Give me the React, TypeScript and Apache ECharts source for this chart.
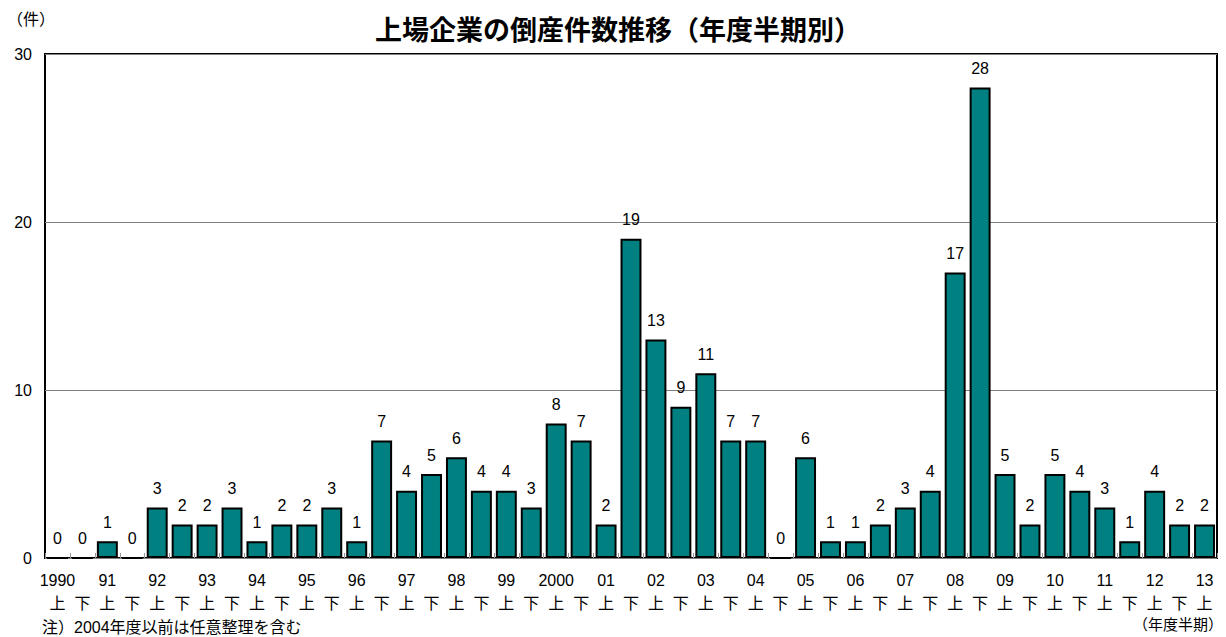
import React, { useEffect, useRef } from "react";
import * as echarts from "echarts";

// Fiscal-year labels shown under each first-half (上) period
const periodYears = [
  "1990", "", "91", "", "92", "", "93", "", "94", "", "95", "", "96", "", "97", "", "98", "", "99", "",
  "2000", "", "01", "", "02", "", "03", "", "04", "", "05", "", "06", "", "07", "", "08", "", "09", "",
  "10", "", "11", "", "12", "", "13",
];

// Half-year markers (上 = first half, 下 = second half)
const periodHalves = [
  "上", "下", "上", "下", "上", "下", "上", "下", "上", "下", "上", "下", "上", "下", "上", "下", "上", "下", "上", "下",
  "上", "下", "上", "下", "上", "下", "上", "下", "上", "下", "上", "下", "上", "下", "上", "下", "上", "下", "上", "下",
  "上", "下", "上", "下", "上", "下", "上",
];

// Number of bankruptcies of listed companies per half-year
const bankruptcyCounts = [
  0, 0, 1, 0, 3, 2, 2, 3, 1, 2, 2, 3, 1, 7, 4, 5, 6, 4, 4, 3,
  8, 7, 2, 19, 13, 9, 11, 7, 7, 0, 6, 1, 1, 2, 3, 4, 17, 28, 5, 2,
  5, 4, 3, 1, 4, 2, 2,
];

const yTicks = [0, 10, 20, 30];

const FONT = "'Liberation Sans', 'Noto Sans CJK JP', sans-serif";
const CJK_FONT = "'Noto Sans CJK JP', sans-serif";

export default function App() {
  const ref = useRef<HTMLDivElement>(null);

  useEffect(() => {
    if (!ref.current) return;
    const chart = echarts.init(ref.current, null, { renderer: "svg" });
    const categories = periodYears.map((y, i) => `${y}|${periodHalves[i]}`);

    chart.setOption({
      animation: false,
      backgroundColor: "#ffffff",
      textStyle: { fontFamily: FONT },
      title: {
        text: "上場企業の倒産件数推移（年度半期別）",
        left: 370,
        top: 10,
        textStyle: { fontSize: 27, fontWeight: "bold", color: "#000", fontFamily: CJK_FONT },
      },
      grid: {
        left: 45,
        right: 9,
        top: 54,
        bottom: 79,
        show: true,
        borderColor: "#000",
        borderWidth: 2,
        backgroundColor: "transparent",
      },
      xAxis: {
        type: "category",
        data: categories,
        axisLine: { show: false },
        axisTick: {
          show: true,
          inside: true,
          length: 5,
          interval: 0,
          lineStyle: { color: "#999", width: 1 },
        },
        axisLabel: {
          interval: 0,
          margin: 11,
          fontSize: 16,
          lineHeight: 23,
          color: "#000",
          fontFamily: FONT,
          formatter: (v: string) => {
            const [y, h] = v.split("|");
            return `${y}\n${h}`;
          },
        },
      },
      yAxis: {
        type: "value",
        min: yTicks[0],
        max: yTicks[yTicks.length - 1],
        interval: 10,
        axisLine: { show: false },
        axisTick: { show: false },
        axisLabel: { margin: 13, fontSize: 16, color: "#000", fontFamily: FONT },
        splitLine: { show: true, lineStyle: { color: "#808080", width: 1 } },
      },
      series: [
        {
          type: "bar",
          data: bankruptcyCounts,
          barCategoryGap: "16%",
          itemStyle: { color: "#008080", borderColor: "#000", borderWidth: 2 },
          label: {
            show: true,
            position: "top",
            distance: 11,
            fontSize: 16,
            color: "#000",
            fontFamily: FONT,
          },
        },
      ],
      graphic: [
        {
          type: "text",
          left: 7,
          top: 10,
          style: { text: "（件）", fontSize: 16, fill: "#000", fontFamily: CJK_FONT },
        },
        {
          type: "text",
          left: 42,
          top: 619,
          style: { text: "注）2004年度以前は任意整理を含む", fontSize: 16, fill: "#000", fontFamily: FONT },
        },
        {
          type: "text",
          right: 3,
          top: 616,
          style: { text: "（年度半期）", fontSize: 15, fill: "#000", fontFamily: CJK_FONT },
        },
      ],
    });

    return () => chart.dispose();
  }, []);

  return (
    <div
      ref={ref}
      style={{ position: "fixed", left: 0, top: 0, width: 1226, height: 637, background: "#fff" }}
    />
  );
}
